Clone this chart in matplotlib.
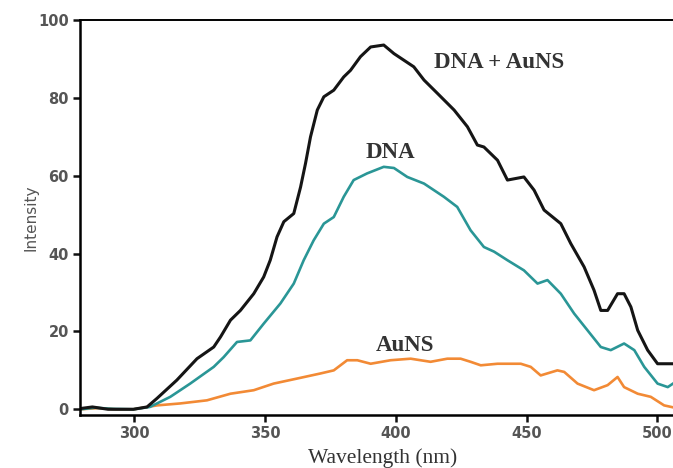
import matplotlib
matplotlib.use("Agg")
import matplotlib.pyplot as plt

# emission spectra, read as (wavelength nm, intensity)
wl_mix = [279.5, 284, 290, 299.7, 304.9, 308.7, 316.3, 324, 330.4, 333, 336.8, 340.6,
          345.7, 349.5, 352, 354.6, 357.2, 361, 363.6, 365.5, 367.4, 370, 372.5,
          376.3, 380.1, 382.7, 386.5, 390.4, 395.4, 399.3, 403.1, 406.9, 410.8,
          415.9, 422.3, 427.4, 431.2, 433.7, 438.9, 442.7, 449, 452.9, 456.7,
          463.1, 466.9, 472, 475.8, 478.4, 481, 484.8, 487.3, 489.9, 492.5,
          496.3, 500.1, 506]
int_mix = [0.2, 0.6, 0.0, 0.0, 0.6, 2.8, 7.5, 13.0, 16.0, 18.6, 22.9, 25.4,
           29.7, 34.0, 38.3, 44.3, 48.2, 50.3, 57.1, 63.2, 70.0, 76.9, 80.3,
           82.0, 85.4, 87.1, 90.6, 93.1, 93.6, 91.4, 89.7, 88.0, 84.6,
           81.2, 76.9, 72.6, 67.9, 67.4, 64.0, 58.9, 59.7, 56.3, 51.2,
           47.7, 42.6, 36.6, 30.6, 25.4, 25.4, 29.7, 29.7, 26.3, 20.3,
           15.2, 11.7, 11.7]

wl_dna = [279.5, 285, 292, 299.7, 306, 313.8, 321.4, 330.4, 334.2, 339.3, 344.4,
          349.5, 355.9, 361, 364.8, 368.6, 372.5, 376.3, 380.1, 383.9, 389,
          395.4, 399.3, 404.4, 410.8, 418.4, 423.5, 428.6, 433.7, 437.6, 442.7,
          449, 454.2, 458, 463.1, 468.2, 473.3, 478.4, 482.2, 487.3, 491.2,
          495, 500.1, 504, 506]
int_dna = [0.0, 0.4, 0.1, 0.0, 0.6, 3.2, 6.6, 10.9, 13.4, 17.3, 17.7,
           22.0, 27.2, 32.3, 38.3, 43.4, 47.7, 49.4, 54.6, 58.9, 60.6,
           62.3, 62.0, 59.7, 58.0, 54.6, 52.0, 46.0, 41.7, 40.5, 38.3,
           35.7, 32.3, 33.2, 29.7, 24.6, 20.3, 16.0, 15.2, 16.9, 15.2,
           10.9, 6.6, 5.7, 6.6]

wl_au = [279.5, 286, 293, 299.7, 308.7, 317.6, 327.8, 336.8, 345.7, 353.3, 362.3,
         371.2, 376.3, 381.4, 385.3, 390.4, 398, 405.7, 413.3, 419.7, 424.8,
         428.6, 432.5, 438.9, 447.8, 451.6, 455.4, 461.8, 464.4, 469.5, 475.8,
         481, 484.8, 487.3, 492.5, 497.5, 502.6, 506]
int_au = [0.0, 0.3, 0.0, 0.0, 1.0, 1.5, 2.3, 4.0, 4.9, 6.6, 7.9,
          9.2, 10.0, 12.6, 12.6, 11.7, 12.6, 13.0, 12.2, 13.0, 13.0,
          12.2, 11.3, 11.7, 11.7, 10.9, 8.7, 10.0, 9.6, 6.6, 4.9,
          6.2, 8.3, 5.7, 4.0, 3.2, 1.0, 0.5]

fig = plt.figure(figsize=(6.73, 4.68), dpi=100)
ax = fig.add_axes([0.119, 0.113, 0.881, 0.844])

ax.plot(wl_au, int_au, color='#f28a35', lw=1.9)
ax.plot(wl_dna, int_dna, color='#2a9696', lw=1.9)
ax.plot(wl_mix, int_mix, color='#151515', lw=2.2)

ax.set_xlim(279.3, 506)
ax.set_ylim(-1.5, 100)
ax.set_xticks([300, 350, 400, 450, 500])
ax.set_yticks([0, 20, 40, 60, 80, 100])

ax.spines['right'].set_visible(False)
ax.spines['left'].set_linewidth(1.8)
ax.spines['bottom'].set_linewidth(1.8)
ax.spines['top'].set_linewidth(1.4)
ax.tick_params(direction='out', length=5, width=1.8, color='#111111',
               labelsize=10.5, labelcolor='#555555', pad=3)
for lbl in ax.get_xticklabels() + ax.get_yticklabels():
    lbl.set_fontweight('bold')

ax.set_ylabel('Intensity', fontsize=11, color='#555555', labelpad=0)
ax.set_xlabel('Wavelength (nm)', fontsize=15.5, color='#333333',
              family='Liberation Serif')
ax.xaxis.label.set_va('center')
ax.xaxis.set_label_coords(0.511, -0.109)

lab = dict(family='Liberation Serif', fontweight='bold', fontsize=16.5,
           color='#333333', ha='center', va='center')
ax.text(439.7, 89, 'DNA + AuNS', **lab)
ax.text(398, 66, 'DNA', **lab)
ax.text(403.7, 16.5, 'AuNS', **lab)

fig.savefig('out.png', dpi=100)
